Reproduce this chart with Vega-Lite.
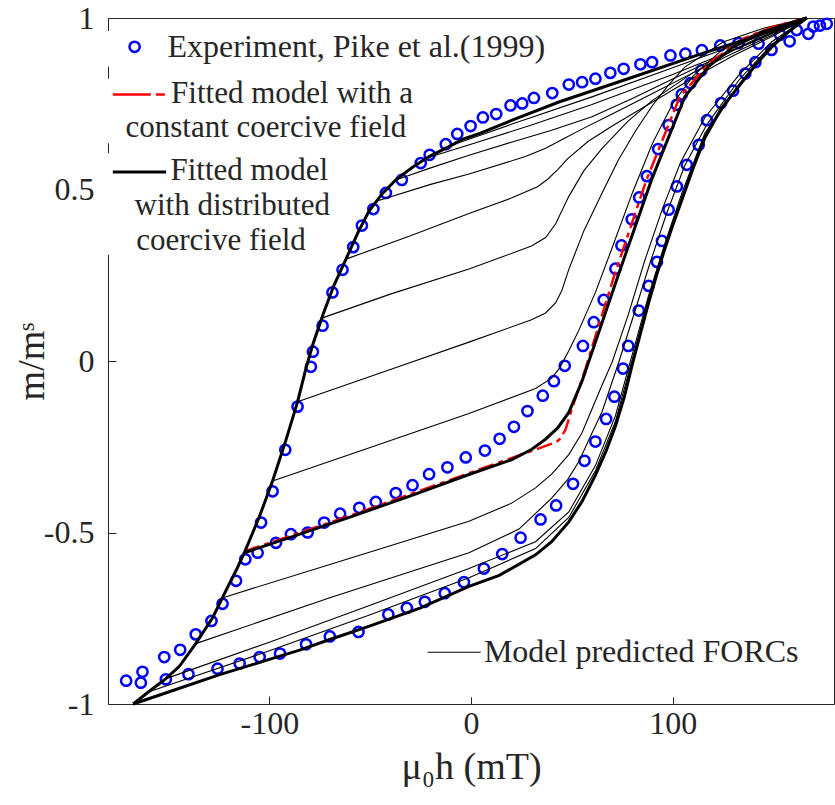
{
  "$schema": "https://vega.github.io/schema/vega-lite/v6.json",
  "width": 726,
  "height": 686,
  "autosize": "none",
  "padding": {"left": 108, "top": 18, "right": 1, "bottom": 101},
  "background": "white",
  "config": {
    "view": {"stroke": "#262626", "strokeWidth": 1},
    "font": "Liberation Serif",
    "axis": {
      "labelFont": "Liberation Serif",
      "titleFont": "Liberation Serif",
      "labelColor": "#262626",
      "titleColor": "#262626",
      "tickColor": "#262626",
      "gridColor": "#e0e0e0",
      "gridWidth": 1,
      "domain": false,
      "titleFontWeight": "normal",
      "labelFontSize": 32,
      "titleFontSize": 38
    }
  },
  "datasets": {
    "loop": [
      {"branch": "desc", "h": -167.5, "m": -1}, {"branch": "desc", "h": -160, "m": -0.965}, {"branch": "desc", "h": -151.3, "m": -0.926}, {"branch": "desc", "h": -144.6, "m": -0.89}, {"branch": "desc", "h": -136.5, "m": -0.824}, {"branch": "desc", "h": -128, "m": -0.747}, {"branch": "desc", "h": -121.6, "m": -0.67}, {"branch": "desc", "h": -116, "m": -0.605}, {"branch": "desc", "h": -112.4, "m": -0.559}, {"branch": "desc", "h": -105, "m": -0.455}, {"branch": "desc", "h": -98.4, "m": -0.35}, {"branch": "desc", "h": -92, "m": -0.235}, {"branch": "desc", "h": -86, "m": -0.119}, {"branch": "desc", "h": -82, "m": -0.025}, {"branch": "desc", "h": -78.6, "m": 0.045}, {"branch": "desc", "h": -73.6, "m": 0.132}, {"branch": "desc", "h": -68, "m": 0.22}, {"branch": "desc", "h": -62, "m": 0.297}, {"branch": "desc", "h": -56, "m": 0.375}, {"branch": "desc", "h": -50.5, "m": 0.438}, {"branch": "desc", "h": -44, "m": 0.488}, {"branch": "desc", "h": -37.3, "m": 0.528}, {"branch": "desc", "h": -29, "m": 0.565}, {"branch": "desc", "h": -20.8, "m": 0.596}, {"branch": "desc", "h": -10, "m": 0.628}, {"branch": "desc", "h": -4.3, "m": 0.646}, {"branch": "desc", "h": 5, "m": 0.665}, {"branch": "desc", "h": 20.4, "m": 0.702}, {"branch": "desc", "h": 43.6, "m": 0.755}, {"branch": "desc", "h": 83, "m": 0.833}, {"branch": "desc", "h": 113, "m": 0.893}, {"branch": "desc", "h": 140, "m": 0.945}, {"branch": "desc", "h": 166.5, "m": 1},
      {"branch": "asc", "h": -167.5, "m": -1}, {"branch": "asc", "h": -150, "m": -0.965}, {"branch": "asc", "h": -125, "m": -0.915}, {"branch": "asc", "h": -100, "m": -0.87}, {"branch": "asc", "h": -85, "m": -0.843}, {"branch": "asc", "h": -70, "m": -0.812}, {"branch": "asc", "h": -50, "m": -0.772}, {"branch": "asc", "h": -25, "m": -0.72}, {"branch": "asc", "h": -1, "m": -0.657}, {"branch": "asc", "h": 14, "m": -0.625}, {"branch": "asc", "h": 32, "m": -0.565}, {"branch": "asc", "h": 40, "m": -0.527}, {"branch": "asc", "h": 48.5, "m": -0.469}, {"branch": "asc", "h": 55, "m": -0.41}, {"branch": "asc", "h": 61.7, "m": -0.333}, {"branch": "asc", "h": 67, "m": -0.262}, {"branch": "asc", "h": 71.6, "m": -0.19}, {"branch": "asc", "h": 76, "m": -0.105}, {"branch": "asc", "h": 80, "m": -0.01}, {"branch": "asc", "h": 84, "m": 0.08}, {"branch": "asc", "h": 88, "m": 0.168}, {"branch": "asc", "h": 92, "m": 0.25}, {"branch": "asc", "h": 96, "m": 0.325}, {"branch": "asc", "h": 100, "m": 0.395}, {"branch": "asc", "h": 104.6, "m": 0.47}, {"branch": "asc", "h": 110, "m": 0.56}, {"branch": "asc", "h": 116, "m": 0.651}, {"branch": "asc", "h": 124, "m": 0.735}, {"branch": "asc", "h": 132.7, "m": 0.8}, {"branch": "asc", "h": 141, "m": 0.862}, {"branch": "asc", "h": 149, "m": 0.915}, {"branch": "asc", "h": 157, "m": 0.958}, {"branch": "asc", "h": 166.5, "m": 1}
    ],
    "fitted": [
      {"h": -112.4, "m": -0.559}, {"h": -90, "m": -0.515}, {"h": -60, "m": -0.455}, {"h": -30, "m": -0.393}, {"h": -1, "m": -0.331}, {"h": 20, "m": -0.288}, {"h": 30, "m": -0.258}, {"h": 37, "m": -0.228}, {"h": 43, "m": -0.195}, {"h": 48.5, "m": -0.15}, {"h": 55, "m": -0.06}, {"h": 61.7, "m": 0.055}, {"h": 73, "m": 0.25}, {"h": 89.5, "m": 0.528}, {"h": 106, "m": 0.77}, {"h": 118, "m": 0.86}, {"h": 130, "m": 0.915}, {"h": 145, "m": 0.96}, {"h": 166.5, "m": 1}
    ],
    "constant": [
      {"h": -112.4, "m": -0.555}, {"h": -60, "m": -0.451}, {"h": -1, "m": -0.327}, {"h": 20, "m": -0.283}, {"h": 35, "m": -0.252}, {"h": 42, "m": -0.237}, {"h": 44, "m": -0.228}, {"h": 46.9, "m": -0.2}, {"h": 50.1, "m": -0.138}, {"h": 56.8, "m": -0.022}, {"h": 60, "m": 0.04}, {"h": 71, "m": 0.248}, {"h": 87, "m": 0.528}, {"h": 103.5, "m": 0.77}, {"h": 118, "m": 0.868}, {"h": 135, "m": 0.94}, {"h": 150, "m": 0.975}, {"h": 166.5, "m": 1}
    ],
    "forcs": [
      {"forc": "r-10", "h": -10, "m": 0.628}, {"forc": "r-10", "h": 20, "m": 0.69}, {"forc": "r-10", "h": 60, "m": 0.77}, {"forc": "r-10", "h": 100, "m": 0.855}, {"forc": "r-10", "h": 140, "m": 0.94}, {"forc": "r-10", "h": 166.5, "m": 1},
      {"forc": "r-22", "h": -22, "m": 0.592}, {"forc": "r-22", "h": 0, "m": 0.632}, {"forc": "r-22", "h": 30, "m": 0.688}, {"forc": "r-22", "h": 60, "m": 0.748}, {"forc": "r-22", "h": 100, "m": 0.835}, {"forc": "r-22", "h": 140, "m": 0.93}, {"forc": "r-22", "h": 166.5, "m": 1},
      {"forc": "r-37", "h": -37.3, "m": 0.528}, {"forc": "r-37", "h": -20, "m": 0.563}, {"forc": "r-37", "h": -1, "m": 0.6}, {"forc": "r-37", "h": 20, "m": 0.638}, {"forc": "r-37", "h": 40, "m": 0.673}, {"forc": "r-37", "h": 60, "m": 0.712}, {"forc": "r-37", "h": 80, "m": 0.765}, {"forc": "r-37", "h": 100, "m": 0.822}, {"forc": "r-37", "h": 120, "m": 0.878}, {"forc": "r-37", "h": 140, "m": 0.935}, {"forc": "r-37", "h": 166.5, "m": 1},
      {"forc": "r-47", "h": -47, "m": 0.466}, {"forc": "r-47", "h": -20, "m": 0.515}, {"forc": "r-47", "h": -1, "m": 0.545}, {"forc": "r-47", "h": 27, "m": 0.596}, {"forc": "r-47", "h": 37, "m": 0.62}, {"forc": "r-47", "h": 45, "m": 0.645}, {"forc": "r-47", "h": 55, "m": 0.676}, {"forc": "r-47", "h": 70, "m": 0.72}, {"forc": "r-47", "h": 90, "m": 0.78}, {"forc": "r-47", "h": 110, "m": 0.84}, {"forc": "r-47", "h": 130, "m": 0.897}, {"forc": "r-47", "h": 150, "m": 0.952}, {"forc": "r-47", "h": 166.5, "m": 1},
      {"forc": "r-62", "h": -62, "m": 0.297}, {"forc": "r-62", "h": -30, "m": 0.365}, {"forc": "r-62", "h": -1, "m": 0.43}, {"forc": "r-62", "h": 20, "m": 0.475}, {"forc": "r-62", "h": 33, "m": 0.508}, {"forc": "r-62", "h": 38, "m": 0.53}, {"forc": "r-62", "h": 43, "m": 0.558}, {"forc": "r-62", "h": 48, "m": 0.59}, {"forc": "r-62", "h": 58, "m": 0.64}, {"forc": "r-62", "h": 70, "m": 0.685}, {"forc": "r-62", "h": 90, "m": 0.755}, {"forc": "r-62", "h": 110, "m": 0.825}, {"forc": "r-62", "h": 130, "m": 0.89}, {"forc": "r-62", "h": 150, "m": 0.948}, {"forc": "r-62", "h": 166.5, "m": 1},
      {"forc": "r-74", "h": -74, "m": 0.125}, {"forc": "r-74", "h": -40, "m": 0.195}, {"forc": "r-74", "h": -1, "m": 0.268}, {"forc": "r-74", "h": 30, "m": 0.335}, {"forc": "r-74", "h": 37, "m": 0.36}, {"forc": "r-74", "h": 42, "m": 0.4}, {"forc": "r-74", "h": 48.5, "m": 0.48}, {"forc": "r-74", "h": 56, "m": 0.555}, {"forc": "r-74", "h": 65, "m": 0.62}, {"forc": "r-74", "h": 78, "m": 0.7}, {"forc": "r-74", "h": 90, "m": 0.76}, {"forc": "r-74", "h": 110, "m": 0.84}, {"forc": "r-74", "h": 130, "m": 0.905}, {"forc": "r-74", "h": 150, "m": 0.958}, {"forc": "r-74", "h": 166.5, "m": 1},
      {"forc": "r-86", "h": -86, "m": -0.119}, {"forc": "r-86", "h": -40, "m": -0.025}, {"forc": "r-86", "h": -1, "m": 0.055}, {"forc": "r-86", "h": 30, "m": 0.12}, {"forc": "r-86", "h": 37, "m": 0.14}, {"forc": "r-86", "h": 42, "m": 0.17}, {"forc": "r-86", "h": 45, "m": 0.205}, {"forc": "r-86", "h": 48.5, "m": 0.267}, {"forc": "r-86", "h": 56, "m": 0.38}, {"forc": "r-86", "h": 65, "m": 0.49}, {"forc": "r-86", "h": 73, "m": 0.585}, {"forc": "r-86", "h": 81.5, "m": 0.67}, {"forc": "r-86", "h": 90, "m": 0.745}, {"forc": "r-86", "h": 98, "m": 0.805}, {"forc": "r-86", "h": 106, "m": 0.857}, {"forc": "r-86", "h": 125, "m": 0.93}, {"forc": "r-86", "h": 145, "m": 0.97}, {"forc": "r-86", "h": 166.5, "m": 1},
      {"forc": "r-98", "h": -98.4, "m": -0.35}, {"forc": "r-98", "h": -50, "m": -0.252}, {"forc": "r-98", "h": -1, "m": -0.153}, {"forc": "r-98", "h": 32, "m": -0.08}, {"forc": "r-98", "h": 40, "m": -0.05}, {"forc": "r-98", "h": 44, "m": -0.02}, {"forc": "r-98", "h": 48.5, "m": 0.03}, {"forc": "r-98", "h": 53.5, "m": 0.09}, {"forc": "r-98", "h": 61.7, "m": 0.2}, {"forc": "r-98", "h": 70, "m": 0.33}, {"forc": "r-98", "h": 80, "m": 0.49}, {"forc": "r-98", "h": 90, "m": 0.635}, {"forc": "r-98", "h": 100, "m": 0.75}, {"forc": "r-98", "h": 110, "m": 0.83}, {"forc": "r-98", "h": 125, "m": 0.91}, {"forc": "r-98", "h": 145, "m": 0.965}, {"forc": "r-98", "h": 166.5, "m": 1},
      {"forc": "r-123", "h": -123, "m": -0.69}, {"forc": "r-123", "h": -60, "m": -0.575}, {"forc": "r-123", "h": -1, "m": -0.467}, {"forc": "r-123", "h": 20, "m": -0.415}, {"forc": "r-123", "h": 32, "m": -0.37}, {"forc": "r-123", "h": 40, "m": -0.33}, {"forc": "r-123", "h": 48.5, "m": -0.273}, {"forc": "r-123", "h": 55, "m": -0.21}, {"forc": "r-123", "h": 60, "m": -0.14}, {"forc": "r-123", "h": 65, "m": -0.07}, {"forc": "r-123", "h": 70, "m": -0.003}, {"forc": "r-123", "h": 78, "m": 0.135}, {"forc": "r-123", "h": 86, "m": 0.29}, {"forc": "r-123", "h": 95, "m": 0.445}, {"forc": "r-123", "h": 104, "m": 0.58}, {"forc": "r-123", "h": 116, "m": 0.71}, {"forc": "r-123", "h": 133, "m": 0.835}, {"forc": "r-123", "h": 149, "m": 0.93}, {"forc": "r-123", "h": 166.5, "m": 1},
      {"forc": "r-137", "h": -136.5, "m": -0.824}, {"forc": "r-137", "h": -70, "m": -0.69}, {"forc": "r-137", "h": -1, "m": -0.559}, {"forc": "r-137", "h": 23.8, "m": -0.49}, {"forc": "r-137", "h": 40, "m": -0.4}, {"forc": "r-137", "h": 48, "m": -0.345}, {"forc": "r-137", "h": 53.5, "m": -0.293}, {"forc": "r-137", "h": 60, "m": -0.21}, {"forc": "r-137", "h": 65, "m": -0.148}, {"forc": "r-137", "h": 73.3, "m": -0.003}, {"forc": "r-137", "h": 81, "m": 0.14}, {"forc": "r-137", "h": 89, "m": 0.29}, {"forc": "r-137", "h": 97, "m": 0.43}, {"forc": "r-137", "h": 106, "m": 0.57}, {"forc": "r-137", "h": 117, "m": 0.69}, {"forc": "r-137", "h": 133, "m": 0.82}, {"forc": "r-137", "h": 149, "m": 0.922}, {"forc": "r-137", "h": 166.5, "m": 1},
      {"forc": "r-151", "h": -151.3, "m": -0.926}, {"forc": "r-151", "h": -100, "m": -0.82}, {"forc": "r-151", "h": -50, "m": -0.712}, {"forc": "r-151", "h": -1, "m": -0.605}, {"forc": "r-151", "h": 32, "m": -0.527}, {"forc": "r-151", "h": 48.5, "m": -0.44}, {"forc": "r-151", "h": 61.7, "m": -0.305}, {"forc": "r-151", "h": 71.6, "m": -0.16}, {"forc": "r-151", "h": 80, "m": 0.02}, {"forc": "r-151", "h": 88, "m": 0.19}, {"forc": "r-151", "h": 96, "m": 0.34}, {"forc": "r-151", "h": 104.6, "m": 0.49}, {"forc": "r-151", "h": 116, "m": 0.665}, {"forc": "r-151", "h": 133, "m": 0.808}, {"forc": "r-151", "h": 149, "m": 0.918}, {"forc": "r-151", "h": 166.5, "m": 1},
      {"forc": "r-160", "h": -160, "m": -0.965}, {"forc": "r-160", "h": -100, "m": -0.845}, {"forc": "r-160", "h": -50, "m": -0.74}, {"forc": "r-160", "h": -1, "m": -0.632}, {"forc": "r-160", "h": 32, "m": -0.547}, {"forc": "r-160", "h": 48.5, "m": -0.456}, {"forc": "r-160", "h": 61.7, "m": -0.32}, {"forc": "r-160", "h": 71.6, "m": -0.176}, {"forc": "r-160", "h": 80, "m": 0.005}, {"forc": "r-160", "h": 88, "m": 0.18}, {"forc": "r-160", "h": 96, "m": 0.333}, {"forc": "r-160", "h": 104.6, "m": 0.478}, {"forc": "r-160", "h": 116, "m": 0.658}, {"forc": "r-160", "h": 133, "m": 0.804}, {"forc": "r-160", "h": 149, "m": 0.916}, {"forc": "r-160", "h": 166.5, "m": 1}
    ],
    "experiment": [
      {"h": -171, "m": -0.932}, {"h": -163.7, "m": -0.938}, {"h": -162.9, "m": -0.906}, {"h": -152.1, "m": -0.863}, {"h": -144.2, "m": -0.842}, {"h": -136.5, "m": -0.797}, {"h": -128.7, "m": -0.758}, {"h": -123.2, "m": -0.708}, {"h": -116.5, "m": -0.641}, {"h": -111.9, "m": -0.578}, {"h": -104.1, "m": -0.471}, {"h": -98.4, "m": -0.38}, {"h": -92.1, "m": -0.259}, {"h": -86, "m": -0.133}, {"h": -79.4, "m": -0.017}, {"h": -78.4, "m": 0.027}, {"h": -73.6, "m": 0.103}, {"h": -68.7, "m": 0.2}, {"h": -63.7, "m": 0.266}, {"h": -58.4, "m": 0.332}, {"h": -54.1, "m": 0.395}, {"h": -48.4, "m": 0.443}, {"h": -42.2, "m": 0.49}, {"h": -34.3, "m": 0.528}, {"h": -24.9, "m": 0.577}, {"h": -20.5, "m": 0.601}, {"h": -12.5, "m": 0.632}, {"h": -6.8, "m": 0.662}, {"h": -0.2, "m": 0.685}, {"h": 5.9, "m": 0.71}, {"h": 12.5, "m": 0.72}, {"h": 19.6, "m": 0.745}, {"h": 25.4, "m": 0.751}, {"h": 31.2, "m": 0.767}, {"h": 40.3, "m": 0.781}, {"h": 48.5, "m": 0.806}, {"h": 55.1, "m": 0.813}, {"h": 61.7, "m": 0.823}, {"h": 69.1, "m": 0.84}, {"h": 75.7, "m": 0.852}, {"h": 84, "m": 0.865}, {"h": 89.8, "m": 0.871}, {"h": 98.9, "m": 0.891}, {"h": 106.3, "m": 0.896}, {"h": 114.5, "m": 0.906}, {"h": 123.6, "m": 0.92}, {"h": 132.7, "m": 0.927}, {"h": 142.6, "m": 0.925}, {"h": 153.3, "m": 0.951}, {"h": 161.5, "m": 0.965}, {"h": 169.8, "m": 0.975}, {"h": 173, "m": 0.978}, {"h": 176.4, "m": 0.983},
      {"h": -105.8, "m": -0.559}, {"h": -96.7, "m": -0.53}, {"h": -89.3, "m": -0.505}, {"h": -81, "m": -0.5}, {"h": -72.8, "m": -0.471}, {"h": -64.9, "m": -0.445}, {"h": -55.4, "m": -0.428}, {"h": -47.2, "m": -0.411}, {"h": -37.3, "m": -0.385}, {"h": -29, "m": -0.362}, {"h": -20.8, "m": -0.33}, {"h": -11.7, "m": -0.31}, {"h": -2.6, "m": -0.281}, {"h": 6.9, "m": -0.261}, {"h": 14.2, "m": -0.227}, {"h": 21.3, "m": -0.192}, {"h": 28, "m": -0.146}, {"h": 35.6, "m": -0.101}, {"h": 41.1, "m": -0.059}, {"h": 46.5, "m": -0.014}, {"h": 55.5, "m": 0.044}, {"h": 60.9, "m": 0.113}, {"h": 65.8, "m": 0.178}, {"h": 71.6, "m": 0.269}, {"h": 74.6, "m": 0.337}, {"h": 79.7, "m": 0.413}, {"h": 83.4, "m": 0.477}, {"h": 87.2, "m": 0.539}, {"h": 92.8, "m": 0.618}, {"h": 98, "m": 0.688}, {"h": 102, "m": 0.747}, {"h": 104.5, "m": 0.777}, {"h": 108.8, "m": 0.81}, {"h": 114.2, "m": 0.847},
      {"h": -151.3, "m": -0.928}, {"h": -140.1, "m": -0.913}, {"h": -125.7, "m": -0.897}, {"h": -114.7, "m": -0.882}, {"h": -104.8, "m": -0.863}, {"h": -94.7, "m": -0.853}, {"h": -81.8, "m": -0.826}, {"h": -70, "m": -0.803}, {"h": -55.8, "m": -0.79}, {"h": -41, "m": -0.739}, {"h": -31.8, "m": -0.72}, {"h": -22.9, "m": -0.702}, {"h": -13, "m": -0.677}, {"h": -3.5, "m": -0.645}, {"h": 6.4, "m": -0.605}, {"h": 15.5, "m": -0.563}, {"h": 24.6, "m": -0.515}, {"h": 34.5, "m": -0.462}, {"h": 42.2, "m": -0.421}, {"h": 50.6, "m": -0.358}, {"h": 56.3, "m": -0.291}, {"h": 61.7, "m": -0.235}, {"h": 67, "m": -0.169}, {"h": 71.1, "m": -0.104}, {"h": 75.4, "m": -0.022}, {"h": 78, "m": 0.044}, {"h": 83.2, "m": 0.147}, {"h": 88.1, "m": 0.219}, {"h": 92.2, "m": 0.289}, {"h": 94.7, "m": 0.35}, {"h": 98, "m": 0.441}, {"h": 102.1, "m": 0.509}, {"h": 107, "m": 0.572}, {"h": 112.9, "m": 0.63}, {"h": 117, "m": 0.702}, {"h": 124, "m": 0.752}, {"h": 130, "m": 0.788}, {"h": 136, "m": 0.838}, {"h": 141, "m": 0.871}, {"h": 149, "m": 0.907}, {"h": 158, "m": 0.932}, {"h": 167.3, "m": 0.954}
    ],
    "legend": [
      {"item": "legend"}
    ]
  },
  "layer": [
    {"data": {"name": "legend"}, "mark": {"type": "rect", "color": "white"},
     "encoding": {"x": {"datum": -180}, "x2": {"datum": 58}, "y": {"datum": 0.962}, "y2": {"datum": 0.858}}},
    {"data": {"name": "legend"}, "mark": {"type": "rect", "color": "white"},
     "encoding": {"x": {"datum": -180}, "x2": {"datum": -11}, "y": {"datum": 0.823}, "y2": {"datum": 0.635}}},
    {"data": {"name": "legend"}, "mark": {"type": "rect", "color": "white"},
     "encoding": {"x": {"datum": -180}, "x2": {"datum": -60}, "y": {"datum": 0.606}, "y2": {"datum": 0.31}}},
    {"data": {"name": "legend"}, "mark": {"type": "rect", "color": "white"},
     "encoding": {"x": {"datum": -23}, "x2": {"datum": 180}, "y": {"datum": -0.733}, "y2": {"datum": -0.98}}},
    {"data": {"name": "experiment"}, "mark": {"type": "point", "shape": "circle", "filled": false, "color": "#0000ff", "size": 105, "strokeWidth": 2.5, "opacity": 1},
     "encoding": {
       "x": {"field": "h", "type": "quantitative", "scale": {"domain": [-180, 180], "nice": false, "zero": false},
             "axis": {"values": [-100, 0, 100], "labelExpr": "'' + datum.value", "ticks": true, "tickSize": -8, "labelPadding": 12, "title": "μ₀h (mT)", "titlePadding": 9, "labelFlush": false}},
       "y": {"field": "m", "type": "quantitative", "scale": {"domain": [-1, 1], "nice": false, "zero": false},
             "axis": {"values": [-1, -0.5, 0, 0.5, 1], "labelExpr": "'' + datum.value", "ticks": true, "tickSize": -8, "labelPadding": 22, "title": "m/mˢ", "titlePadding": -8}}
     }},
    {"data": {"name": "forcs"}, "mark": {"type": "line", "color": "#000000", "strokeWidth": 1.1},
     "encoding": {
       "x": {"field": "h", "type": "quantitative", "scale": {"domain": [-180, 180], "nice": false, "zero": false}},
       "y": {"field": "m", "type": "quantitative", "scale": {"domain": [-1, 1], "nice": false, "zero": false}},
       "detail": {"field": "forc", "type": "nominal"}}},
    {"data": {"name": "constant"}, "mark": {"type": "line", "color": "#ff0000", "strokeWidth": 2.5, "strokeDash": [16, 5, 5, 5]},
     "encoding": {
       "x": {"field": "h", "type": "quantitative", "scale": {"domain": [-180, 180], "nice": false, "zero": false}},
       "y": {"field": "m", "type": "quantitative", "scale": {"domain": [-1, 1], "nice": false, "zero": false}}}},
    {"data": {"name": "fitted"}, "mark": {"type": "line", "color": "#000000", "strokeWidth": 3},
     "encoding": {
       "x": {"field": "h", "type": "quantitative", "scale": {"domain": [-180, 180], "nice": false, "zero": false}},
       "y": {"field": "m", "type": "quantitative", "scale": {"domain": [-1, 1], "nice": false, "zero": false}}}},
    {"data": {"name": "loop"}, "mark": {"type": "line", "color": "#000000", "strokeWidth": 3},
     "encoding": {
       "x": {"field": "h", "type": "quantitative", "scale": {"domain": [-180, 180], "nice": false, "zero": false}},
       "y": {"field": "m", "type": "quantitative", "scale": {"domain": [-1, 1], "nice": false, "zero": false}},
       "detail": {"field": "branch", "type": "nominal"}}},
    {"data": {"name": "legend"}, "mark": {"type": "point", "shape": "circle", "filled": false, "color": "#0000ff", "size": 105, "strokeWidth": 2.5, "opacity": 1},
     "encoding": {"x": {"datum": -166.8}, "y": {"datum": 0.916}}},
    {"data": {"name": "legend"}, "mark": {"type": "rule", "color": "#ff0000", "strokeWidth": 2.5, "strokeDash": [38, 5, 9, 5]},
     "encoding": {"x": {"datum": -177.6}, "x2": {"datum": -151.2}, "y": {"datum": 0.777}}},
    {"data": {"name": "legend"}, "mark": {"type": "rule", "color": "#000000", "strokeWidth": 3},
     "encoding": {"x": {"datum": -177.6}, "x2": {"datum": -151.2}, "y": {"datum": 0.551}}},
    {"data": {"name": "legend"}, "mark": {"type": "rule", "color": "#000000", "strokeWidth": 1.1},
     "encoding": {"x": {"datum": -21.5}, "x2": {"datum": 4.8}, "y": {"datum": -0.849}}},
    {"data": {"name": "legend"}, "mark": {"type": "text", "align": "left", "baseline": "alphabetic", "font": "Liberation Serif", "fontSize": 32, "color": "#262626"},
     "encoding": {"x": {"datum": -150.5}, "y": {"datum": 0.886}, "text": {"value": "Experiment, Pike et al.(1999)"}}},
    {"data": {"name": "legend"}, "mark": {"type": "text", "align": "left", "baseline": "alphabetic", "font": "Liberation Serif", "fontSize": 31, "color": "#262626"},
     "encoding": {"x": {"datum": -148.7}, "y": {"datum": 0.7536}, "text": {"value": "Fitted model with a"}}},
    {"data": {"name": "legend"}, "mark": {"type": "text", "align": "left", "baseline": "alphabetic", "font": "Liberation Serif", "fontSize": 31, "color": "#262626"},
     "encoding": {"x": {"datum": -171.3}, "y": {"datum": 0.652}, "text": {"value": "constant coercive field"}}},
    {"data": {"name": "legend"}, "mark": {"type": "text", "align": "left", "baseline": "alphabetic", "font": "Liberation Serif", "fontSize": 31, "color": "#262626"},
     "encoding": {"x": {"datum": -149}, "y": {"datum": 0.5275}, "text": {"value": "Fitted model"}}},
    {"data": {"name": "legend"}, "mark": {"type": "text", "align": "left", "baseline": "alphabetic", "font": "Liberation Serif", "fontSize": 31, "color": "#262626"},
     "encoding": {"x": {"datum": -166.8}, "y": {"datum": 0.426}, "text": {"value": "with distributed"}}},
    {"data": {"name": "legend"}, "mark": {"type": "text", "align": "left", "baseline": "alphabetic", "font": "Liberation Serif", "fontSize": 31, "color": "#262626"},
     "encoding": {"x": {"datum": -166}, "y": {"datum": 0.325}, "text": {"value": "coercive field"}}},
    {"data": {"name": "legend"}, "mark": {"type": "text", "align": "left", "baseline": "alphabetic", "font": "Liberation Serif", "fontSize": 32, "color": "#262626"},
     "encoding": {"x": {"datum": 6.4}, "y": {"datum": -0.878}, "text": {"value": "Model predicted FORCs"}}}
  ]
}
